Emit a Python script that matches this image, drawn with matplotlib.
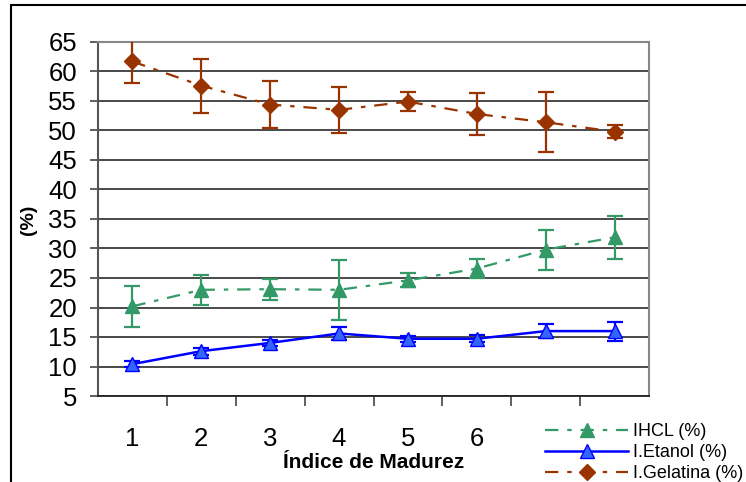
import matplotlib
matplotlib.use('Agg')
import matplotlib.pyplot as plt
from matplotlib.patches import Rectangle
import numpy as np

plt.rcParams['font.family'] = ['Liberation Sans', 'DejaVu Sans']

# maturity index categories (last two have no label on the axis)
categorias = [1, 2, 3, 4, 5, 6, 7, 8]
rotulos_x = ['1', '2', '3', '4', '5', '6', '', '']

ihcl = [20.2, 23.0, 23.1, 23.0, 24.6, 26.6, 29.8, 31.9]
ihcl_err = [3.5, 2.5, 1.8, 5.1, 1.2, 1.6, 3.4, 3.6]

etanol = [10.4, 12.6, 14.0, 15.6, 14.7, 14.7, 16.0, 16.0]
etanol_err = [0.5, 0.6, 0.5, 1.1, 0.5, 0.6, 1.2, 1.6]

gelatina = [61.7, 57.6, 54.4, 53.5, 54.9, 52.8, 51.4, 49.8]
gelatina_err = [3.6, 4.6, 4.0, 3.9, 1.6, 3.5, 5.1, 1.1]

VERDE = '#339966'
AZUL = '#0000FF'
AZUL_CLARO = '#3366FF'
MARROM = '#993300'

fig = plt.figure(figsize=(7.46, 4.82), dpi=100)
ax = fig.add_axes([98 / 746, 1 - 396 / 482, 551 / 746, 354 / 482])

x = np.array(categorias)

ax.errorbar(x, ihcl, yerr=ihcl_err, color=VERDE, linestyle=(0, (6, 4, 2, 4)), lw=1.6,
            marker='^', markersize=10, markerfacecolor=VERDE, markeredgecolor=VERDE,
            capsize=6, elinewidth=1.6, capthick=1.6, label='IHCL (%)', zorder=3)
ax.errorbar(x, etanol, yerr=etanol_err, color=AZUL, linestyle='-', lw=1.8,
            marker='^', markersize=10, markerfacecolor=AZUL_CLARO, markeredgecolor=AZUL,
            capsize=6, elinewidth=1.6, capthick=1.6, label='I.Etanol (%)', zorder=3)
ax.errorbar(x, gelatina, yerr=gelatina_err, color=MARROM, linestyle=(0, (6, 4, 2, 4)), lw=1.6,
            marker='D', markersize=8, markerfacecolor=MARROM, markeredgecolor=MARROM,
            capsize=6, elinewidth=1.6, capthick=1.6, label='I.Gelatina (%)', zorder=3)

ax.set_xlim(0.5, 8.5)
ax.set_ylim(5, 65)
ax.set_yticks(np.arange(5, 66, 5))
ax.yaxis.grid(True, color='#2a2a2a', linewidth=1.2)
ax.set_axisbelow(True)

# category labels in the middle, tick marks at the boundaries
ax.set_xticks(x)
ax.set_xticklabels(rotulos_x)
ax.tick_params(axis='x', which='major', length=0, labelsize=18.5, pad=22)
ax.set_xticks(np.arange(1.5, 8.5, 1), minor=True)
ax.tick_params(axis='x', which='minor', length=7, width=1.2, color='#444444', direction='out')
ax.tick_params(axis='y', length=6, width=1.2, color='#444444', labelsize=18.5, pad=9)

for lado in ['top', 'right']:
    ax.spines[lado].set_color('#888888')
    ax.spines[lado].set_linewidth(1.5)
ax.spines['left'].set_color('#555555')
ax.spines['left'].set_linewidth(1.5)
ax.spines['bottom'].set_color('#222222')
ax.spines['bottom'].set_linewidth(1.3)

fig.text(29 / 746, 1 - 220 / 482, '(%)', fontsize=14, fontweight='bold',
         rotation=90, ha='center', va='center')
fig.text(374 / 746, 1 - 463 / 482, 'Índice de Madurez', fontsize=15, fontweight='bold',
         ha='center', va='center')

handles, labels = ax.get_legend_handles_labels()
handles = [h[0] for h in handles]
fig.legend(handles, labels, loc='upper left', bbox_to_anchor=(545 / 746, 1 - 423 / 482),
           frameon=False, fontsize=13, handlelength=4.6, handletextpad=0.3,
           labelspacing=0.22, borderpad=0, borderaxespad=0)

# outer chart frame
fig.patches.append(Rectangle((11 / 746, -0.1), 1.2, 1 - 5 / 482 + 0.1, transform=fig.transFigure,
                             fill=False, edgecolor='black', linewidth=1.5))

fig.savefig('out.png', dpi=100)
